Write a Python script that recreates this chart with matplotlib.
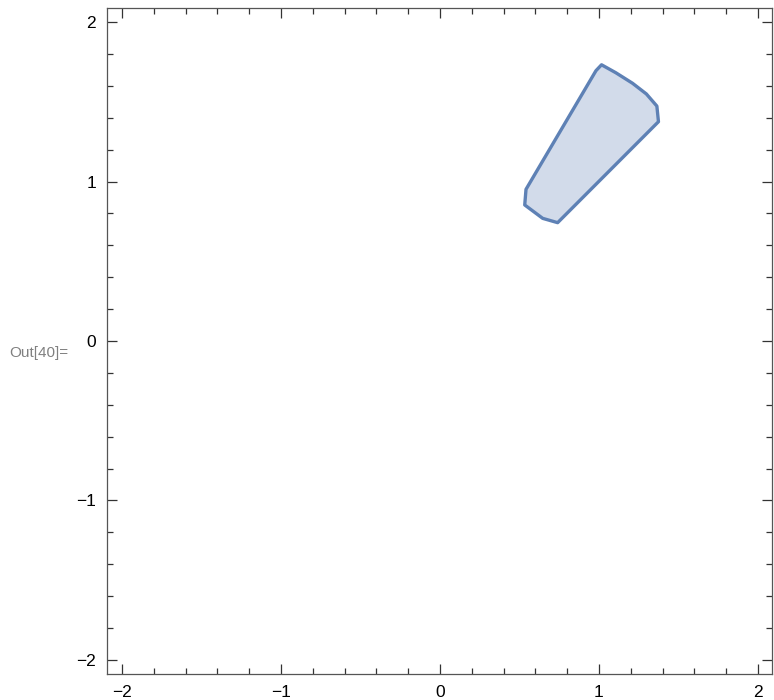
import numpy as np
import matplotlib.pyplot as plt
from matplotlib.ticker import MultipleLocator

# polygon vertices
poly_x = [1.016, 0.981, 0.541, 0.533, 0.646, 0.740, 1.374, 1.364, 1.298, 1.211, 1.106]
poly_y = [1.732, 1.695, 0.951, 0.853, 0.769, 0.742, 1.375, 1.473, 1.549, 1.616, 1.682]

ticks = [-2, -1, 0, 1, 2]
tick_labels = ["\u22122", "\u22121", "0", "1", "2"]

plt.rcParams['font.family'] = ['Liberation Sans', 'DejaVu Sans']

fig = plt.figure(figsize=(7.74, 7.0), dpi=100)
ax = fig.add_axes([107 / 774, 26 / 700, 665 / 774, 666 / 700])

edge = '#5E81B5'
ax.fill(poly_x, poly_y, facecolor=edge, alpha=0.28, edgecolor='none')
ax.fill(poly_x, poly_y, facecolor='none', edgecolor=edge, linewidth=2.4, joinstyle='round')

ax.set_xlim(-2.094, 2.088)
ax.set_ylim(-2.088, 2.088)

ax.set_xticks(ticks)
ax.set_xticklabels(tick_labels)
ax.set_yticks(ticks)
ax.set_yticklabels(tick_labels)
ax.xaxis.set_minor_locator(MultipleLocator(0.2))
ax.yaxis.set_minor_locator(MultipleLocator(0.2))
ax.tick_params(which='both', direction='in', top=True, right=True,
               color='#333333', width=0.9, labelsize=12.5, labelcolor='black')
ax.tick_params(which='major', length=7, pad=8)
ax.tick_params(which='minor', length=4)
for s in ax.spines.values():
    s.set_color('#555555')
    s.set_linewidth(0.9)

fig.text(9 / 774, 1 - 353 / 700, "Out[40]=", color='#808080', fontsize=11,
         va='center', ha='left')

fig.savefig('out.png', dpi=100)
